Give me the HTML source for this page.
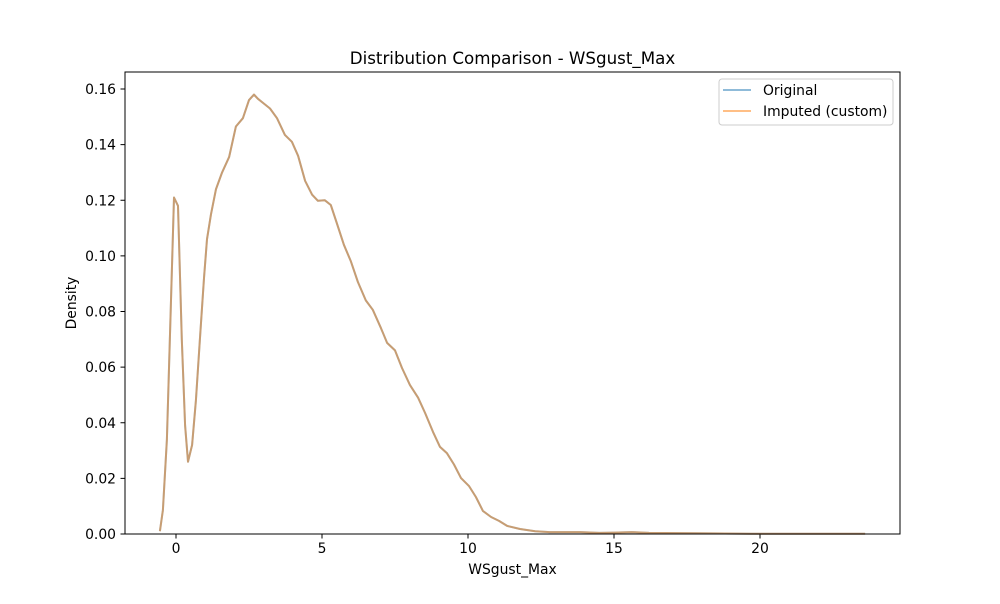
<!DOCTYPE html>
<html><head><meta charset="utf-8"><style>
body{margin:0;background:#fff;font-family:"DejaVu Sans","Liberation Sans",sans-serif;}
svg text{font-family:"DejaVu Sans","Liberation Sans",sans-serif;fill:#000;}
</style></head><body>
<svg id="chart" width="1000" height="600">
<rect width="1000" height="600" fill="#fff"/>
<text x="512.5" y="64" font-size="16.7" text-anchor="middle">Distribution Comparison - WSgust_Max</text>
<g id="xticks"></g>
<g id="yticks"></g>
<g id="series"></g>
<rect x="125" y="72" width="775" height="462" fill="none" stroke="#000" stroke-width="1"/>
<text x="512.5" y="574" font-size="13.9" text-anchor="middle">WSgust_Max</text>
<text transform="translate(76,303) rotate(-90)" font-size="13.9" text-anchor="middle">Density</text>
<g>
<rect x="719" y="79" width="174" height="46" rx="3" fill="#fff" fill-opacity="0.8" stroke="#ccc"/>
<g>
<line x1="723" y1="90" x2="751" y2="90" stroke="#1f77b4" stroke-opacity="0.5" stroke-width="2"/>
<text x="763" y="95" font-size="13.9">Original</text></g>
<g>
<line x1="723" y1="111" x2="751" y2="111" stroke="#ff7f0e" stroke-opacity="0.5" stroke-width="2"/>
<text x="763" y="116" font-size="13.9">Imputed (custom)</text></g>
</g>
</svg>
<script>
const xValues=[-0.55,-0.45,-0.31,-0.17,-0.07,0.07,0.2,0.31,0.41,0.55,0.68,0.82,0.96,1.06,1.2,1.37,1.58,1.82,2.05,2.29,2.5,2.67,2.8,2.98,3.22,3.46,3.73,3.97,4.18,4.42,4.66,4.86,5.1,5.3,5.5,5.75,5.99,6.23,6.5,6.74,7.02,7.23,7.5,7.74,8.01,8.29,8.53,8.8,9.04,9.28,9.52,9.76,10.03,10.27,10.51,10.79,11.06,11.34,11.78,12.3,12.8,13.84,14.5,15.0,15.6,16.2,17.9,19.7,21.4,23.6];
const originalDensity=[0.001,0.0086,0.034,0.084,0.121,0.118,0.07,0.039,0.026,0.032,0.048,0.07,0.092,0.106,0.115,0.124,0.130,0.1355,0.1465,0.1495,0.156,0.158,0.1565,0.155,0.153,0.1495,0.1435,0.141,0.136,0.127,0.122,0.1198,0.12,0.1183,0.112,0.104,0.098,0.0906,0.084,0.0806,0.074,0.0687,0.066,0.0597,0.0536,0.049,0.0435,0.0367,0.0313,0.029,0.025,0.0201,0.0173,0.0133,0.0083,0.0061,0.0047,0.0029,0.0018,0.001,0.0007,0.0007,0.0004,0.0005,0.0007,0.0004,0.0003,0.0001,0.0001,0.0001];
const imputedDensity=originalDensity.slice();
const xTickLabels=[0,5,10,15,20];
const yTickLabels=[0.00,0.02,0.04,0.06,0.08,0.10,0.12,0.14,0.16];
const NS="http://www.w3.org/2000/svg";
const xs=v=>176+v*29.2;
const ys=v=>534-v*2781.25;
const xg=document.getElementById('xticks'),yg=document.getElementById('yticks'),sg=document.getElementById('series');
xTickLabels.forEach(t=>{
  const l=document.createElementNS(NS,'line');
  
  
  l.setAttribute('x1',xs(t));l.setAttribute('x2',xs(t));l.setAttribute('y1',534);l.setAttribute('y2',538.5);l.setAttribute('stroke','#000');
  xg.appendChild(l);
  const tx=document.createElementNS(NS,'text');
  
  
  tx.setAttribute('x',xs(t));tx.setAttribute('y',553);tx.setAttribute('font-size','13.9');tx.setAttribute('text-anchor','middle');
  tx.textContent=t;xg.appendChild(tx);
});
yTickLabels.forEach(t=>{
  const l=document.createElementNS(NS,'line');
  
  
  l.setAttribute('x1',120.5);l.setAttribute('x2',125);l.setAttribute('y1',ys(t));l.setAttribute('y2',ys(t));l.setAttribute('stroke','#000');
  yg.appendChild(l);
  const tx=document.createElementNS(NS,'text');
  
  
  tx.setAttribute('x',116);tx.setAttribute('y',ys(t)+5);tx.setAttribute('font-size','13.9');tx.setAttribute('text-anchor','end');
  tx.textContent=t.toFixed(2);yg.appendChild(tx);
});
function drawLine(vals,color,name){
  const p=document.createElementNS(NS,'polyline');
  
  
  p.setAttribute('points',vals.map((v,i)=>xs(xValues[i]).toFixed(1)+','+ys(v).toFixed(1)).join(' '));
  p.setAttribute('fill','none');p.setAttribute('stroke',color);p.setAttribute('stroke-opacity','0.5');p.setAttribute('stroke-width','2');p.setAttribute('stroke-linejoin','round');
  sg.appendChild(p);
}
drawLine(originalDensity,'#1f77b4','original-line');
drawLine(imputedDensity,'#ff7f0e','imputed-line');
</script>
</body></html>
